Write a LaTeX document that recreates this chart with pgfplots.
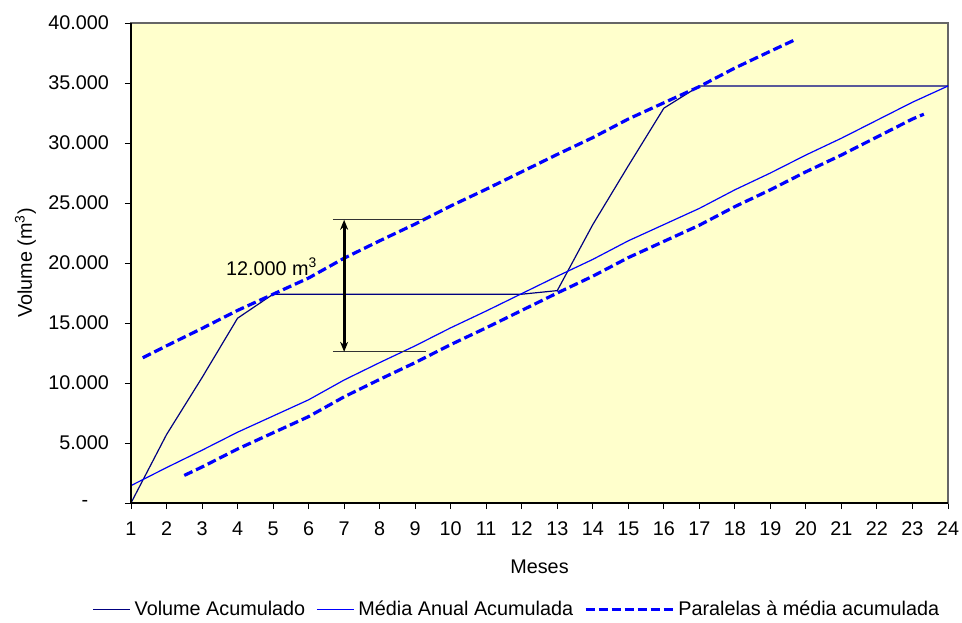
\documentclass[border=0pt]{standalone}
\usepackage{pgfplots}
\pgfplotsset{compat=1.18}
\usepackage{fontspec}
\setmainfont{Liberation Sans}
\usetikzlibrary{arrows.meta}
\definecolor{bgyellow}{HTML}{FFFFCC}
\definecolor{navyline}{HTML}{000080}
\definecolor{pblue}{HTML}{0000FF}
\pgfplotsset{
  shortlegend/.style={legend image code/.code={\draw[##1] (0pt,0pt) -- (18.5pt,0pt);}},
  longlegend/.style={legend image code/.code={\draw[##1] (0pt,0pt) -- (43.5pt,0pt);}},
}
\begin{document}
\fontsize{9.9}{11.8}\selectfont
\begin{tikzpicture}[font=\fontsize{9.9}{11.8}\selectfont]
\path[use as bounding box] (-65.5pt,-59.5pt) rectangle (415.5pt,251.5pt);
\begin{axis}[
  at={(0,0)}, anchor=south west,
  scale only axis, width=408.5pt, height=240pt,
  xmin=1, xmax=24, ymin=0, ymax=40000,
  xtick={1,...,24},
  ytick={0,5000,10000,15000,20000,25000,30000,35000,40000},
  yticklabels={{\makebox[13.7pt][l]{-}},5.000,10.000,15.000,20.000,25.000,30.000,35.000,40.000},
  scaled y ticks=false,
  tick align=outside, major tick length=3pt,
  xtick pos=bottom, ytick pos=left,
  axis background/.style={fill=bgyellow},
  axis line style={gray!80!black, line width=0.6pt},
  tick style={black, line width=0.5pt},
  /pgf/number format/assume math mode=true,
  xticklabel style={yshift=-3pt},
  yticklabel style={xshift=-4.5pt},
  clip=false,
  every axis x label/.style={at={(axis description cs:0.5,0)}, yshift=-35pt, anchor=base},
  every axis y label/.style={at={(axis description cs:0,0.5)}, xshift=-49.5pt, rotate=90, anchor=base},
  xlabel={Meses}, ylabel={Volume (m\textsuperscript{3})},
  legend style={at={(axis description cs:-0.055,-0.222)}, anchor=west, draw=none, fill=none,
    legend columns=3, /tikz/every even column/.style={column sep=3.5pt}},
  shortlegend,
]
% Volume Acumulado
\addplot[navyline, line width=0.6pt] coordinates {
 (1,0) (2,5700) (3,10450) (4,15400) (5,17400) (6,17400) (7,17400) (8,17400)
 (9,17400) (10,17400) (11,17400) (12,17400) (13,17700) (14,23200) (15,28100)
 (16,32900) (17,34750) (18,34750) (19,34750) (20,34750) (21,34750) (22,34750)
 (23,34750) (24,34750)};
\addlegendentry{Volume Acumulado}
% Media Anual Acumulada
\addplot[pblue, line width=0.6pt] coordinates {
 (1,1450) (2,2950) (3,4400) (4,5900) (5,7250) (6,8600) (7,10250) (8,11700)
 (9,13100) (10,14600) (11,16000) (12,17450) (13,18900) (14,20300) (15,21850)
 (16,23200) (17,24550) (18,26100) (19,27500) (20,29000) (21,30400) (22,31900)
 (23,33400) (24,34750)};
\addlegendentry{Média Anual Acumulada}
% Paralelas
\addplot[pblue, line width=1.6pt, dash pattern=on 4.5pt off 2pt, longlegend] coordinates {
 (1.33,12100) (2,13100) (3,14550) (4,16050) (5,17400) (6,18750) (7,20400)
 (8,21850) (9,23250) (10,24750) (11,26150) (12,27600) (13,29050) (14,30450)
 (15,32000) (16,33350) (17,34700) (18,36250) (19,37650) (19.69,38600)};
\addlegendentry{Paralelas à média acumulada}
\addplot[pblue, line width=1.6pt, dash pattern=on 4.5pt off 2pt, forget plot] coordinates {
 (2.5,2300) (3,3000) (4,4500) (5,5850) (6,7200) (7,8850) (8,10300) (9,11700)
 (10,13200) (11,14600) (12,16050) (13,17500) (14,18900) (15,20450) (16,21800)
 (17,23150) (18,24700) (19,26100) (20,27600) (21,29000) (22,30500) (23,32000)
 (23.32,32400)};
% annotation
\addplot[black!80, line width=0.6pt, forget plot] coordinates {(6.68,23600) (9.3,23600)};
\addplot[black!80, line width=0.6pt, forget plot] coordinates {(6.68,12600) (9.3,12600)};
\addplot[black, line width=1.4pt, {Stealth[length=5pt,width=4pt]}-{Stealth[length=5pt,width=4pt]}, forget plot]
  coordinates {(7,12600) (7,23600)};
\node[anchor=base] at (axis cs:4.96,19000) {12.000 m\textsuperscript{3}};
\draw[black, line width=0.6pt] (rel axis cs:0,1) -- (rel axis cs:0,0) -- (rel axis cs:1,0);
\end{axis}
\end{tikzpicture}
\end{document}
